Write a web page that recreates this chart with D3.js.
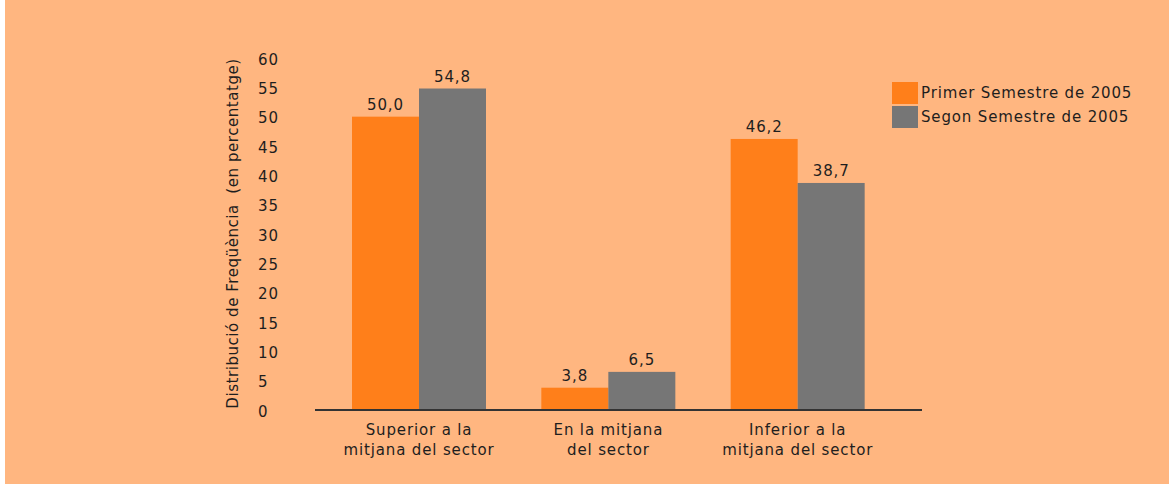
<!DOCTYPE html>
<html><head><meta charset="utf-8">
<script src="https://cdn.jsdelivr.net/npm/d3@7"></script>
<style>
html,body{margin:0;padding:0;background:#fff;}
svg{display:block;}
text{font-family:"DejaVu Sans",Verdana,sans-serif;fill:#1e1e1e;font-size:15px;letter-spacing:0.85px;}
</style></head>
<body>
<svg id="chart" width="1169" height="484"></svg>
<script>
const categories = [["Superior a la","mitjana del sector"],["En la mitjana","del sector"],["Inferior a la","mitjana del sector"]];
const seriesNames = ["Primer Semestre de 2005","Segon Semestre de 2005"];
const primer = [50.0, 3.8, 46.2];
const segon = [54.8, 6.5, 38.7];
const yTicks = [0,5,10,15,20,25,30,35,40,45,50,55,60];
const yTitle = "Distribució de Freqüència  (en percentatge)";
const colors = ["#FF7F1A","#767676"];

const svg = d3.select("#chart");
svg.append("rect").attr("x",5).attr("y",0).attr("width",1164).attr("height",484).attr("fill","#FFB680");

const catKeys = categories.map((c,i)=>i);
const x0 = d3.scaleBand().domain(catKeys).range([324.4, 892.4]);
const x1 = d3.scaleBand().domain(seriesNames).range([27.6, 161.6]);
const y = d3.scaleLinear().domain([0,60]).range([410,58]);

const data = catKeys.map(i=>({i, vals:[primer[i], segon[i]]}));

// y tick labels
svg.append("g").selectAll("text").data(yTicks).join("text")
  .attr("x",258).attr("y",d=>y(d)+1.5)
  .attr("dominant-baseline","central")
  .text(d=>d);

// y title
svg.append("text")
  .attr("transform","translate(233,233.5) rotate(-90)")
  .attr("text-anchor","middle").attr("dominant-baseline","central")
  .style("white-space","pre").style("letter-spacing","0.55px")
  .text(yTitle);

// bars
const groups = svg.append("g").selectAll("g").data(data).join("g")
  .attr("transform",d=>`translate(${x0(d.i)},0)`);
groups.selectAll("rect").data(d=>d.vals.map((v,k)=>({v,k}))).join("rect")
  .attr("x",d=>x1(seriesNames[d.k])).attr("width",x1.bandwidth())
  .attr("y",d=>y(d.v)).attr("height",d=>y(0)-y(d.v))
  .attr("fill",d=>colors[d.k]);
groups.selectAll("text.val").data(d=>d.vals.map((v,k)=>({v,k}))).join("text")
  .attr("class","val")
  .attr("x",d=>x1(seriesNames[d.k])+x1.bandwidth()/2)
  .attr("y",d=>y(d.v)-12)
  .attr("text-anchor","middle").attr("dominant-baseline","central")
  .text(d=>d3.format(".1f")(d.v).replace(".",","));

// x axis line
svg.append("line").attr("x1",315).attr("x2",922).attr("y1",y(0)).attr("y2",y(0))
  .attr("stroke","#333").attr("stroke-width",2);

// category labels
const cl = svg.append("g").selectAll("text").data(catKeys).join("text")
  .attr("text-anchor","middle");
cl.selectAll("tspan").data(i=>categories[i].map((t,l)=>({t,l,i}))).join("tspan")
  .attr("x",d=>x0(d.i)+x0.bandwidth()/2)
  .attr("y",d=>430+d.l*20)
  .attr("dominant-baseline","central")
  .text(d=>d.t);

// legend
const lg = svg.append("g");
seriesNames.forEach((s,k)=>{
  lg.append("rect").attr("x",892).attr("y",82+k*24).attr("width",26).attr("height",22).attr("fill",colors[k]);
  lg.append("text").attr("x",921).attr("y",93+k*24).attr("dominant-baseline","central").text(s);
});
</script>
</body></html>
